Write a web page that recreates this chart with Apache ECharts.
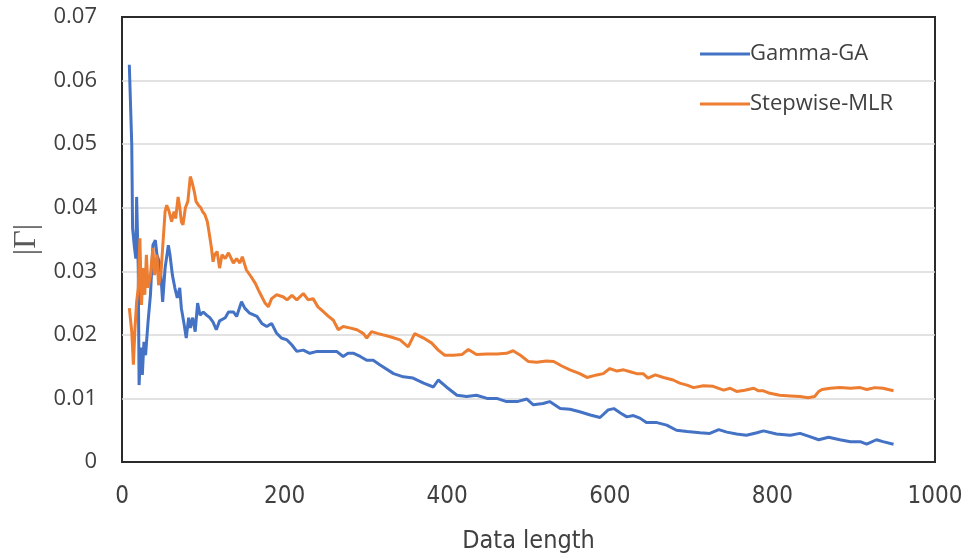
<!DOCTYPE html>
<html><head><meta charset="utf-8">
<script src="https://cdn.jsdelivr.net/npm/echarts@6/dist/echarts.min.js"></script>
<style>html,body{margin:0;padding:0;background:#fff}#c{width:969px;height:559px}</style>
</head><body><div id="c"></div>
<script>
const seriesNames = ['Gamma-GA', 'Stepwise-MLR'];
const xTicks = [0, 200, 400, 600, 800, 1000];
const yTicks = [0, 0.01, 0.02, 0.03, 0.04, 0.05, 0.06, 0.07];

const gammaX = [9,12,13,15,17,18,20,21,23,25,27,29,32,35,38,41,43,47,50,53,57,59,62,65,68,71,73,76,79,82,84,87,90,93,96,100,104,108,112,116,120,127,131,137,141,147,151,157,166,172,178,184,190,196,203,209,215,223,231,240,248,256,264,272,278,285,293,301,309,317,334,346,358,371,383,389,399,412,424,436,449,461,473,486,498,506,518,526,539,551,563,576,588,598,605,613,621,629,637,645,658,670,682,695,711,723,734,744,756,768,781,789,805,822,834,846,857,869,883,896,908,916,928,936,949];
const gammaY = [0.0625,0.0499,0.0368,0.0341,0.032,0.0417,0.0305,0.0121,0.018,0.0137,0.0189,0.0168,0.022,0.0263,0.0341,0.0349,0.0326,0.031,0.0252,0.0305,0.0341,0.0326,0.0294,0.0274,0.0258,0.0274,0.0242,0.022,0.0195,0.0227,0.0211,0.0227,0.0205,0.025,0.0231,0.0236,0.0231,0.0227,0.022,0.0208,0.0222,0.0227,0.0236,0.0236,0.0229,0.0252,0.0242,0.0234,0.0229,0.0218,0.0213,0.0218,0.0203,0.0195,0.0192,0.0184,0.0174,0.0176,0.0171,0.0174,0.0174,0.0174,0.0174,0.0166,0.0171,0.0171,0.0166,0.016,0.016,0.0153,0.0139,0.0134,0.0132,0.0124,0.0118,0.0129,0.0118,0.0105,0.0103,0.0105,0.01,0.01,0.0095,0.0095,0.0099,0.009,0.0092,0.0095,0.0084,0.0083,0.0079,0.0074,0.007,0.0082,0.0084,0.0077,0.0071,0.0073,0.0069,0.0062,0.0062,0.0058,0.005,0.0048,0.0046,0.0045,0.0051,0.0047,0.0044,0.0042,0.0046,0.0049,0.0044,0.0042,0.0045,0.004,0.0035,0.0039,0.0035,0.0032,0.0032,0.0028,0.0035,0.0032,0.0028];

const stepX = [9,12,14,16,18,20,22,24,26,28,30,32,35,38,40,43,45,48,50,53,55,58,61,64,66,69,71,73,75,78,81,84,86,89,91,94,97,99,102,105,107,110,112,114,117,120,123,127,131,137,141,145,148,153,159,164,168,172,176,180,184,190,198,203,209,215,223,229,235,241,248,254,260,266,272,280,289,297,301,307,315,330,342,352,360,371,381,389,397,408,418,426,436,449,461,473,481,490,500,510,522,531,541,551,563,572,584,592,600,609,617,625,633,641,647,656,666,678,686,695,703,715,727,740,748,756,766,777,783,789,797,809,822,834,844,852,857,861,871,883,896,908,916,926,936,949];
const stepY = [0.0242,0.0205,0.0153,0.0211,0.0252,0.0274,0.0352,0.0247,0.0305,0.0263,0.0326,0.0274,0.0294,0.0337,0.0294,0.0326,0.0278,0.0299,0.0337,0.0394,0.0404,0.0394,0.0378,0.0394,0.0383,0.0417,0.0401,0.0378,0.0373,0.04,0.041,0.0449,0.0441,0.0425,0.041,0.0404,0.04,0.0394,0.0389,0.0378,0.0362,0.0337,0.0315,0.0326,0.0331,0.0305,0.0326,0.032,0.0329,0.0313,0.032,0.0313,0.0323,0.0302,0.0291,0.0281,0.027,0.026,0.025,0.0244,0.0257,0.0263,0.026,0.0255,0.0262,0.0255,0.0265,0.0255,0.0257,0.0244,0.0236,0.0229,0.0223,0.0208,0.0213,0.0211,0.0208,0.0202,0.0195,0.0205,0.0202,0.0197,0.0192,0.0181,0.0202,0.0195,0.0187,0.0176,0.0168,0.0168,0.0169,0.0177,0.0169,0.017,0.017,0.0171,0.0175,0.0168,0.0158,0.0157,0.0159,0.0158,0.0151,0.0145,0.0139,0.0133,0.0137,0.0139,0.0147,0.0143,0.0145,0.0142,0.0139,0.0139,0.0132,0.0137,0.0133,0.0129,0.0124,0.0121,0.0117,0.012,0.0119,0.0113,0.0116,0.0111,0.0113,0.0116,0.0112,0.0112,0.0108,0.0105,0.0104,0.0103,0.0101,0.0103,0.0111,0.0114,0.0116,0.0117,0.0116,0.0117,0.0114,0.0117,0.0116,0.0112];

const zip = (xs, ys) => xs.map((x, i) => [x, ys[i]]);
const chart = echarts.init(document.getElementById('c'), null, {renderer: 'canvas'});
const txt = '#404040';
const narrow = '"DejaVu Sans Condensed", "Open Sans"';
chart.setOption({
  animation: false,
  backgroundColor: '#ffffff',
  grid: {left: 122, right: 34, top: 17, bottom: 97, show: true, borderColor: '#2b2b2b', borderWidth: 2,
         backgroundColor: 'transparent', outerBoundsMode: 'none', containLabel: false},
  legend: {
    orient: 'vertical', left: 695, top: 34,
    itemWidth: 50, itemHeight: 3, itemGap: 20, icon: 'rect',
    textStyle: {fontFamily: 'Open Sans', fontSize: 22, color: txt, lineHeight: 30, padding: [0,0,0,-5]},
    data: seriesNames
  },
  xAxis: {
    type: 'value', min: xTicks[0], max: xTicks[xTicks.length-1], interval: 200,
    axisLine: {show: false}, axisTick: {show: false}, splitLine: {show: false},
    axisLabel: {fontFamily: narrow, fontSize: 24, color: txt, margin: 23,
      formatter: v => String(v)},
    name: 'Data length', nameLocation: 'middle', nameGap: 67,
    nameTextStyle: {fontFamily: narrow, fontSize: 25, color: txt}
  },
  yAxis: {
    type: 'value', min: yTicks[0], max: yTicks[yTicks.length-1], interval: 0.01,
    axisLine: {show: false}, axisTick: {show: false},
    splitLine: {show: true, showMinLine: false, showMaxLine: false, lineStyle: {color: '#d9d9d9', width: 1.5}},
    axisLabel: {fontFamily: 'Open Sans', fontSize: 22, color: txt, margin: 25,
      formatter: v => { const t = yTicks.find(k => Math.abs(k - v) < 1e-9); return t === 0 ? '0' : (t !== undefined ? t.toFixed(2) : ''); }},
    name: '|Γ|', nameLocation: 'middle', nameGap: 79, nameRotate: 90,
    nameTextStyle: {fontFamily: 'Liberation Serif', fontSize: 32, color: '#595959'}
  },
  series: [
    {name: seriesNames[0], type: 'line', data: zip(gammaX, gammaY), showSymbol: false, symbol: 'none',
     lineStyle: {color: '#4472C4', width: 3}, itemStyle: {color: '#4472C4'}},
    {name: seriesNames[1], type: 'line', data: zip(stepX, stepY), showSymbol: false, symbol: 'none',
     lineStyle: {color: '#ED7D31', width: 3}, itemStyle: {color: '#ED7D31'}}
  ]
});
</script></body></html>
